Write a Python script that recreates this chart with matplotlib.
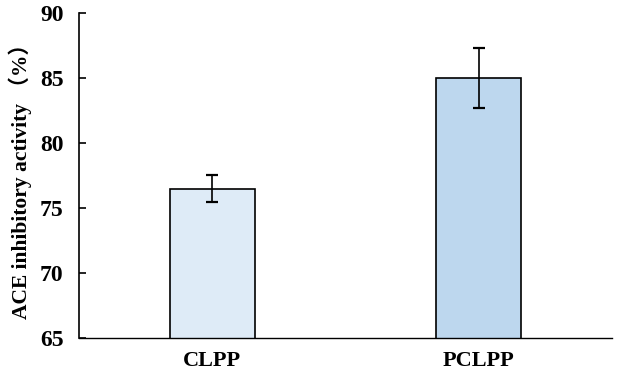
import matplotlib
matplotlib.use("Agg")
import matplotlib.pyplot as plt

categories = ["CLPP", "PCLPP"]
values = [76.5, 85.0]
errors = [1.05, 2.3]
colors = ["#DEEBF7", "#BDD7EE"]
yticks = [65, 70, 75, 80, 85, 90]

plt.rcParams['font.family'] = ['Liberation Serif', 'Noto Sans CJK SC']
plt.rcParams['font.weight'] = 'bold'

fig = plt.figure(figsize=(6.24, 3.76), dpi=100)
ax = fig.add_axes([0.1266, 0.101, 0.854, 0.8634])
x = range(len(categories))
ax.bar(x, values, width=0.32, color=colors, edgecolor="black", linewidth=1.2,
       yerr=errors, capsize=4, error_kw=dict(elinewidth=1.2, capthick=1.6, ecolor="black"), zorder=2)
ax.set_xlim(-0.5, 1.5)
ax.set_ylim(65, 90)
ax.set_yticks(yticks)
ax.set_xticks(list(x))
ax.set_xticklabels(categories, fontsize=16, fontweight='bold')
ax.tick_params(axis='x', length=0, pad=9)
ax.tick_params(axis='y', direction='in', length=5, width=1.2, labelsize=17, pad=11)
for lbl in ax.get_yticklabels():
    lbl.set_fontweight('bold')
ax.spines['top'].set_visible(False)
ax.spines['right'].set_visible(False)
ax.spines['left'].set_linewidth(1.2)
ax.spines['bottom'].set_linewidth(1.0)
ax.set_ylabel("ACE inhibitory activity （%）", fontsize=15.5, fontweight='bold', labelpad=6)
fig.savefig("out.png", dpi=100)
